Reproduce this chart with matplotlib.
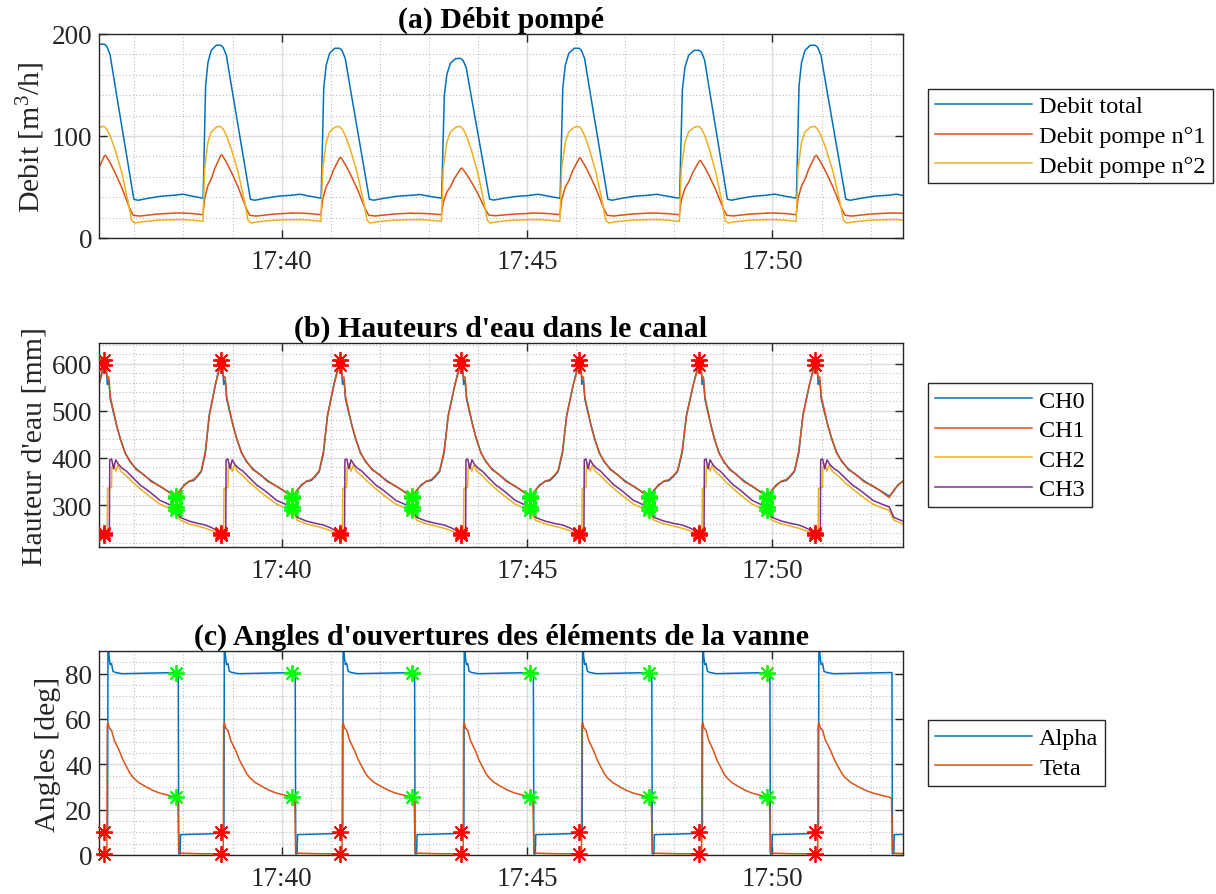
import numpy as np
import matplotlib
matplotlib.use("Agg")
import matplotlib.pyplot as plt
from matplotlib.ticker import FixedLocator, MultipleLocator

# time axis in minutes after 17:00
x_lim = (36.28, 52.66)
x_ticks = [40, 45, 50]
x_tick_labels = ["17:40", "17:45", "17:50"]

# cycle instants (red stars = peaks, green stars = gate closing)
t_peak = [36.39, 38.76, 41.18, 43.65, 46.06, 48.51, 50.87, 53.30]
t_green = [35.47, 37.84, 40.22, 42.65, 45.07, 47.48, 49.89, 52.38]
n_marked = 7

# (a) pumped flow, one cycle shape: rise = green->peak, fall = peak->green (fraction, value)
tot_rise_f = [0, 0.16, 0.37, 0.61, 0.665, 0.717, 0.79, 0.90, 1.0]
tot_rise_v = [42, 43, 41, 39, 149, 172, 184, 189, 189]
tot_fall_f = [0, 0.033, 0.079, 0.149, 0.358, 0.414, 0.474, 0.62, 0.80, 1.0]
tot_fall_v = [189, 187, 179, 149, 61, 38, 37, 39, 41, 42]
tot_peaks = [190, 189, 186, 176, 186, 184, 189, 189]

p1_rise_f = [0, 0.16, 0.37, 0.606, 0.643, 0.717, 0.79, 0.866, 0.978, 1.0]
p1_rise_v = [24.5, 24.5, 24, 22.8, 38.5, 51.5, 58, 68, 79, 81]
p1_fall_f = [0, 0.019, 0.079, 0.149, 0.242, 0.358, 0.405, 0.498, 0.75, 1.0]
p1_fall_v = [81, 81.6, 74.4, 64.6, 50, 28.7, 22.2, 21.5, 23.5, 24.5]
p1_peaks = [81, 81.5, 79, 68.5, 78.5, 76, 81, 81]

p2_rise_f = [0, 0.16, 0.37, 0.606, 0.643, 0.717, 0.79, 0.90, 0.978, 1.0]
p2_rise_v = [18, 18, 17.5, 16.3, 68, 94, 104, 108.6, 109.5, 109]
p2_fall_f = [0, 0.033, 0.079, 0.149, 0.242, 0.335, 0.381, 0.428, 0.498, 0.75, 1.0]
p2_fall_v = [109, 107, 100.5, 87, 64.6, 35, 17.3, 14.7, 15.7, 17.5, 18]

# (b) water heights
ch0_rise_f = [0, 0.10, 0.19, 0.30, 0.40, 0.48, 0.57, 0.66, 0.745, 0.88, 1.0]
ch0_rise_v = [319, 330, 343, 350, 352, 360, 371, 410, 491, 554, 608]
ch0_fall_f = [0, 0.028, 0.041, 0.062, 0.083, 0.124, 0.172, 0.221, 0.29, 0.359, 0.448, 0.552, 0.655, 0.786, 0.897, 1.0]
ch0_fall_v = [608, 590, 556, 565, 525, 498, 470, 441, 412, 392, 377, 364, 352, 339, 329, 319]
ch1_rise_v = [316, 332, 341, 351, 354, 362, 373, 415, 488, 556, 598]
ch1_fall_v = [598, 588, 570, 572, 530, 502, 468, 443, 410, 394, 375, 365, 350, 340, 328, 316]

ch2_rise_f = [0, 0.05, 0.10, 0.30, 0.50, 0.65, 0.80, 0.95, 1.0]
ch2_rise_v = [289, 278, 268, 260, 255, 251, 246, 239, 237]
ch2_fall_f = [0, 0.04, 0.045, 0.10, 0.105, 0.13, 0.16, 0.19, 0.23, 0.31, 0.40, 0.50, 0.62, 0.78, 0.90, 1.0]
ch2_fall_v = [237, 238, 335, 338, 380, 388, 372, 385, 372, 362, 348, 335, 320, 302, 294, 289]

ch3_rise_f = [0, 0.05, 0.10, 0.30, 0.50, 0.65, 0.80, 0.95, 1.0]
ch3_rise_v = [296, 285, 274, 266, 261, 258, 252, 244, 241]
ch3_fall_f = [0, 0.07, 0.075, 0.10, 0.13, 0.16, 0.20, 0.25, 0.31, 0.40, 0.50, 0.62, 0.78, 0.90, 1.0]
ch3_fall_v = [241, 244, 396, 398, 377, 396, 386, 378, 372, 358, 343, 330, 310, 302, 296]

# (c) gate angles
alpha_rise_f = [0, 0.06, 0.07, 0.10, 0.11, 0.5, 0.95, 1.0]
alpha_rise_v = [80.5, 80.5, 0.5, 0.5, 9, 9.2, 9.5, 10]
alpha_fall_f = [0, 0.045, 0.05, 0.06, 0.065, 0.08, 0.10, 0.12, 0.16, 0.25, 1.0]
alpha_fall_v = [10, 10.5, 91, 92, 88, 84, 84.5, 81, 80.5, 80, 80.5]
teta_rise_f = [0, 0.05, 0.07, 0.12, 0.5, 1.0]
teta_rise_v = [25.5, 25, 1.5, 0.8, 0.6, 0.5]
teta_fall_f = [0, 0.035, 0.04, 0.05, 0.07, 0.10, 0.14, 0.21, 0.26, 0.31, 0.36, 0.40, 0.48, 0.59, 0.68, 0.77, 0.88, 1.0]
teta_fall_v = [0.5, 1, 57, 58.5, 56, 55, 50.5, 46, 42, 39, 36, 34.3, 32, 30, 28.5, 27.4, 26.5, 25.5]

C_BLUE, C_ORANGE, C_YELLOW, C_PURPLE = "#0072BD", "#D95319", "#EDB120", "#7E2F8E"
AX_COL = "#262626"
STAR = (8, 2, 0)
FS_TICK, FS_LABEL, FS_LEG = 19.5, 21.5, 17.5

plt.rcParams['font.family'] = ['Liberation Serif', 'DejaVu Serif']
plt.rcParams['mathtext.fontset'] = 'custom'
plt.rcParams['mathtext.rm'] = 'Liberation Serif'
plt.rcParams['mathtext.it'] = 'Liberation Serif:italic'
plt.rcParams['font.size'] = FS_LEG


def build(rise_f, rise_v, fall_f, fall_v, peaks=None, base=0.0, ref=1.0):
    t, v = [], []
    for k in range(len(t_peak)):
        g0, p = t_green[k], t_peak[k]
        s = 1.0 if peaks is None else (peaks[k] - base) / (ref - base)
        for f, val in zip(rise_f, rise_v):
            t.append(g0 + f * (p - g0))
            v.append(base + (val - base) * s)
        if k + 1 < len(t_green):
            g1 = t_green[k + 1]
            for f, val in zip(fall_f, fall_v):
                t.append(p + f * (g1 - p))
                v.append(base + (val - base) * s)
    return np.array(t), np.array(v)


def style_axes(ax, ylim, ymajor, yminor, ylabel, title):
    ax.set_xlim(*x_lim)
    ax.set_ylim(*ylim)
    ax.xaxis.set_major_locator(FixedLocator(x_ticks))
    ax.set_xticklabels(x_tick_labels)
    ax.xaxis.set_minor_locator(MultipleLocator(1))
    ax.yaxis.set_major_locator(MultipleLocator(ymajor))
    ax.yaxis.set_minor_locator(MultipleLocator(yminor))
    ax.grid(which='major', color='#dcdcdc', lw=1.0, ls='-')
    ax.grid(which='minor', color='#bdbdbd', lw=0.8, ls=(0, (1, 2)))
    ax.set_axisbelow(True)
    ax.tick_params(which='major', direction='in', top=True, right=True, labelsize=FS_TICK,
                   length=6, width=1, color=AX_COL, labelcolor=AX_COL)
    ax.tick_params(which='minor', length=0, top=True, right=True)
    ax.tick_params(axis='x', which='major', pad=8)
    ax.tick_params(axis='y', which='major', pad=5)
    for s in ax.spines.values():
        s.set_color(AX_COL)
        s.set_linewidth(1.0)
    ax.set_ylabel(ylabel, fontsize=FS_LABEL, color=AX_COL, labelpad=3)
    ax.set_title(title, fontweight='bold', fontsize=FS_LABEL, pad=5)
    leg = ax.legend(loc='center left', bbox_to_anchor=(1.031, 0.5), frameon=True,
                    fancybox=False, edgecolor=AX_COL, framealpha=1, handlelength=4.0,
                    handletextpad=0.3, labelspacing=0.31, borderpad=0.28, borderaxespad=0,
                    fontsize=FS_LEG)
    leg.get_frame().set_linewidth(1.0)


fig = plt.figure(figsize=(12.16, 8.95), dpi=100)
W, H = 1216, 895
ax_a = fig.add_axes([99 / W, 1 - 239 / H, 804 / W, 204 / H])
ax_b = fig.add_axes([99 / W, 1 - 548 / H, 804 / W, 204 / H])
ax_c = fig.add_axes([99 / W, 1 - 856 / H, 804 / W, 204 / H])
LW = 1.1
MS = 12

# (a)
t, v = build(tot_rise_f, tot_rise_v, tot_fall_f, tot_fall_v, tot_peaks, 39, 189)
ax_a.plot(t, v, color=C_BLUE, lw=LW, label="Debit total")
t, v = build(p1_rise_f, p1_rise_v, p1_fall_f, p1_fall_v, p1_peaks, 23, 81.6)
ax_a.plot(t, v, color=C_ORANGE, lw=LW, label="Debit pompe n°1")
t, v = build(p2_rise_f, p2_rise_v, p2_fall_f, p2_fall_v)
ax_a.plot(t, v, color=C_YELLOW, lw=LW, label="Debit pompe n°2")
style_axes(ax_a, (0, 200), 100, 20, "Debit [m$^3$/h]", "(a) Débit pompé")

# (b)
series_b = [
    build(ch0_rise_f, ch0_rise_v, ch0_fall_f, ch0_fall_v),
    build(ch0_rise_f, ch1_rise_v, ch0_fall_f, ch1_fall_v),
    build(ch2_rise_f, ch2_rise_v, ch2_fall_f, ch2_fall_v),
    build(ch3_rise_f, ch3_rise_v, ch3_fall_f, ch3_fall_v),
]
for (t, v), c, lab in zip(series_b, [C_BLUE, C_ORANGE, C_YELLOW, C_PURPLE], ["CH0", "CH1", "CH2", "CH3"]):
    ax_b.plot(t, v, color=c, lw=LW, label=lab)
tp = np.array(t_peak[:n_marked])
tg = np.array(t_green[1:n_marked])
for t, v in series_b:
    ax_b.plot(tp, np.interp(tp, t, v), ls='none', marker=STAR, ms=MS, mew=1.3, color='#ff0000', zorder=5)
    ax_b.plot(tg, np.interp(tg, t, v), ls='none', marker=STAR, ms=MS, mew=1.3, color='#00ff00', zorder=5)
style_axes(ax_b, (211, 644), 100, 20, "Hauteur d'eau [mm]", "(b) Hauteurs d'eau dans le canal")

# (c)
series_c = [
    build(alpha_rise_f, alpha_rise_v, alpha_fall_f, alpha_fall_v),
    build(teta_rise_f, teta_rise_v, teta_fall_f, teta_fall_v),
]
for (t, v), c, lab in zip(series_c, [C_BLUE, C_ORANGE], ["Alpha", "Teta"]):
    ax_c.plot(t, v, color=c, lw=LW, label=lab)
for t, v in series_c:
    ax_c.plot(tp, np.interp(tp, t, v), ls='none', marker=STAR, ms=MS, mew=1.3, color='#ff0000', zorder=5, clip_on=False)
    ax_c.plot(tg, np.interp(tg, t, v), ls='none', marker=STAR, ms=MS, mew=1.3, color='#00ff00', zorder=5)
style_axes(ax_c, (0, 90), 20, 5, "Angles [deg]", "(c) Angles d'ouvertures des éléments de la vanne")

fig.savefig("out.png", dpi=100)
